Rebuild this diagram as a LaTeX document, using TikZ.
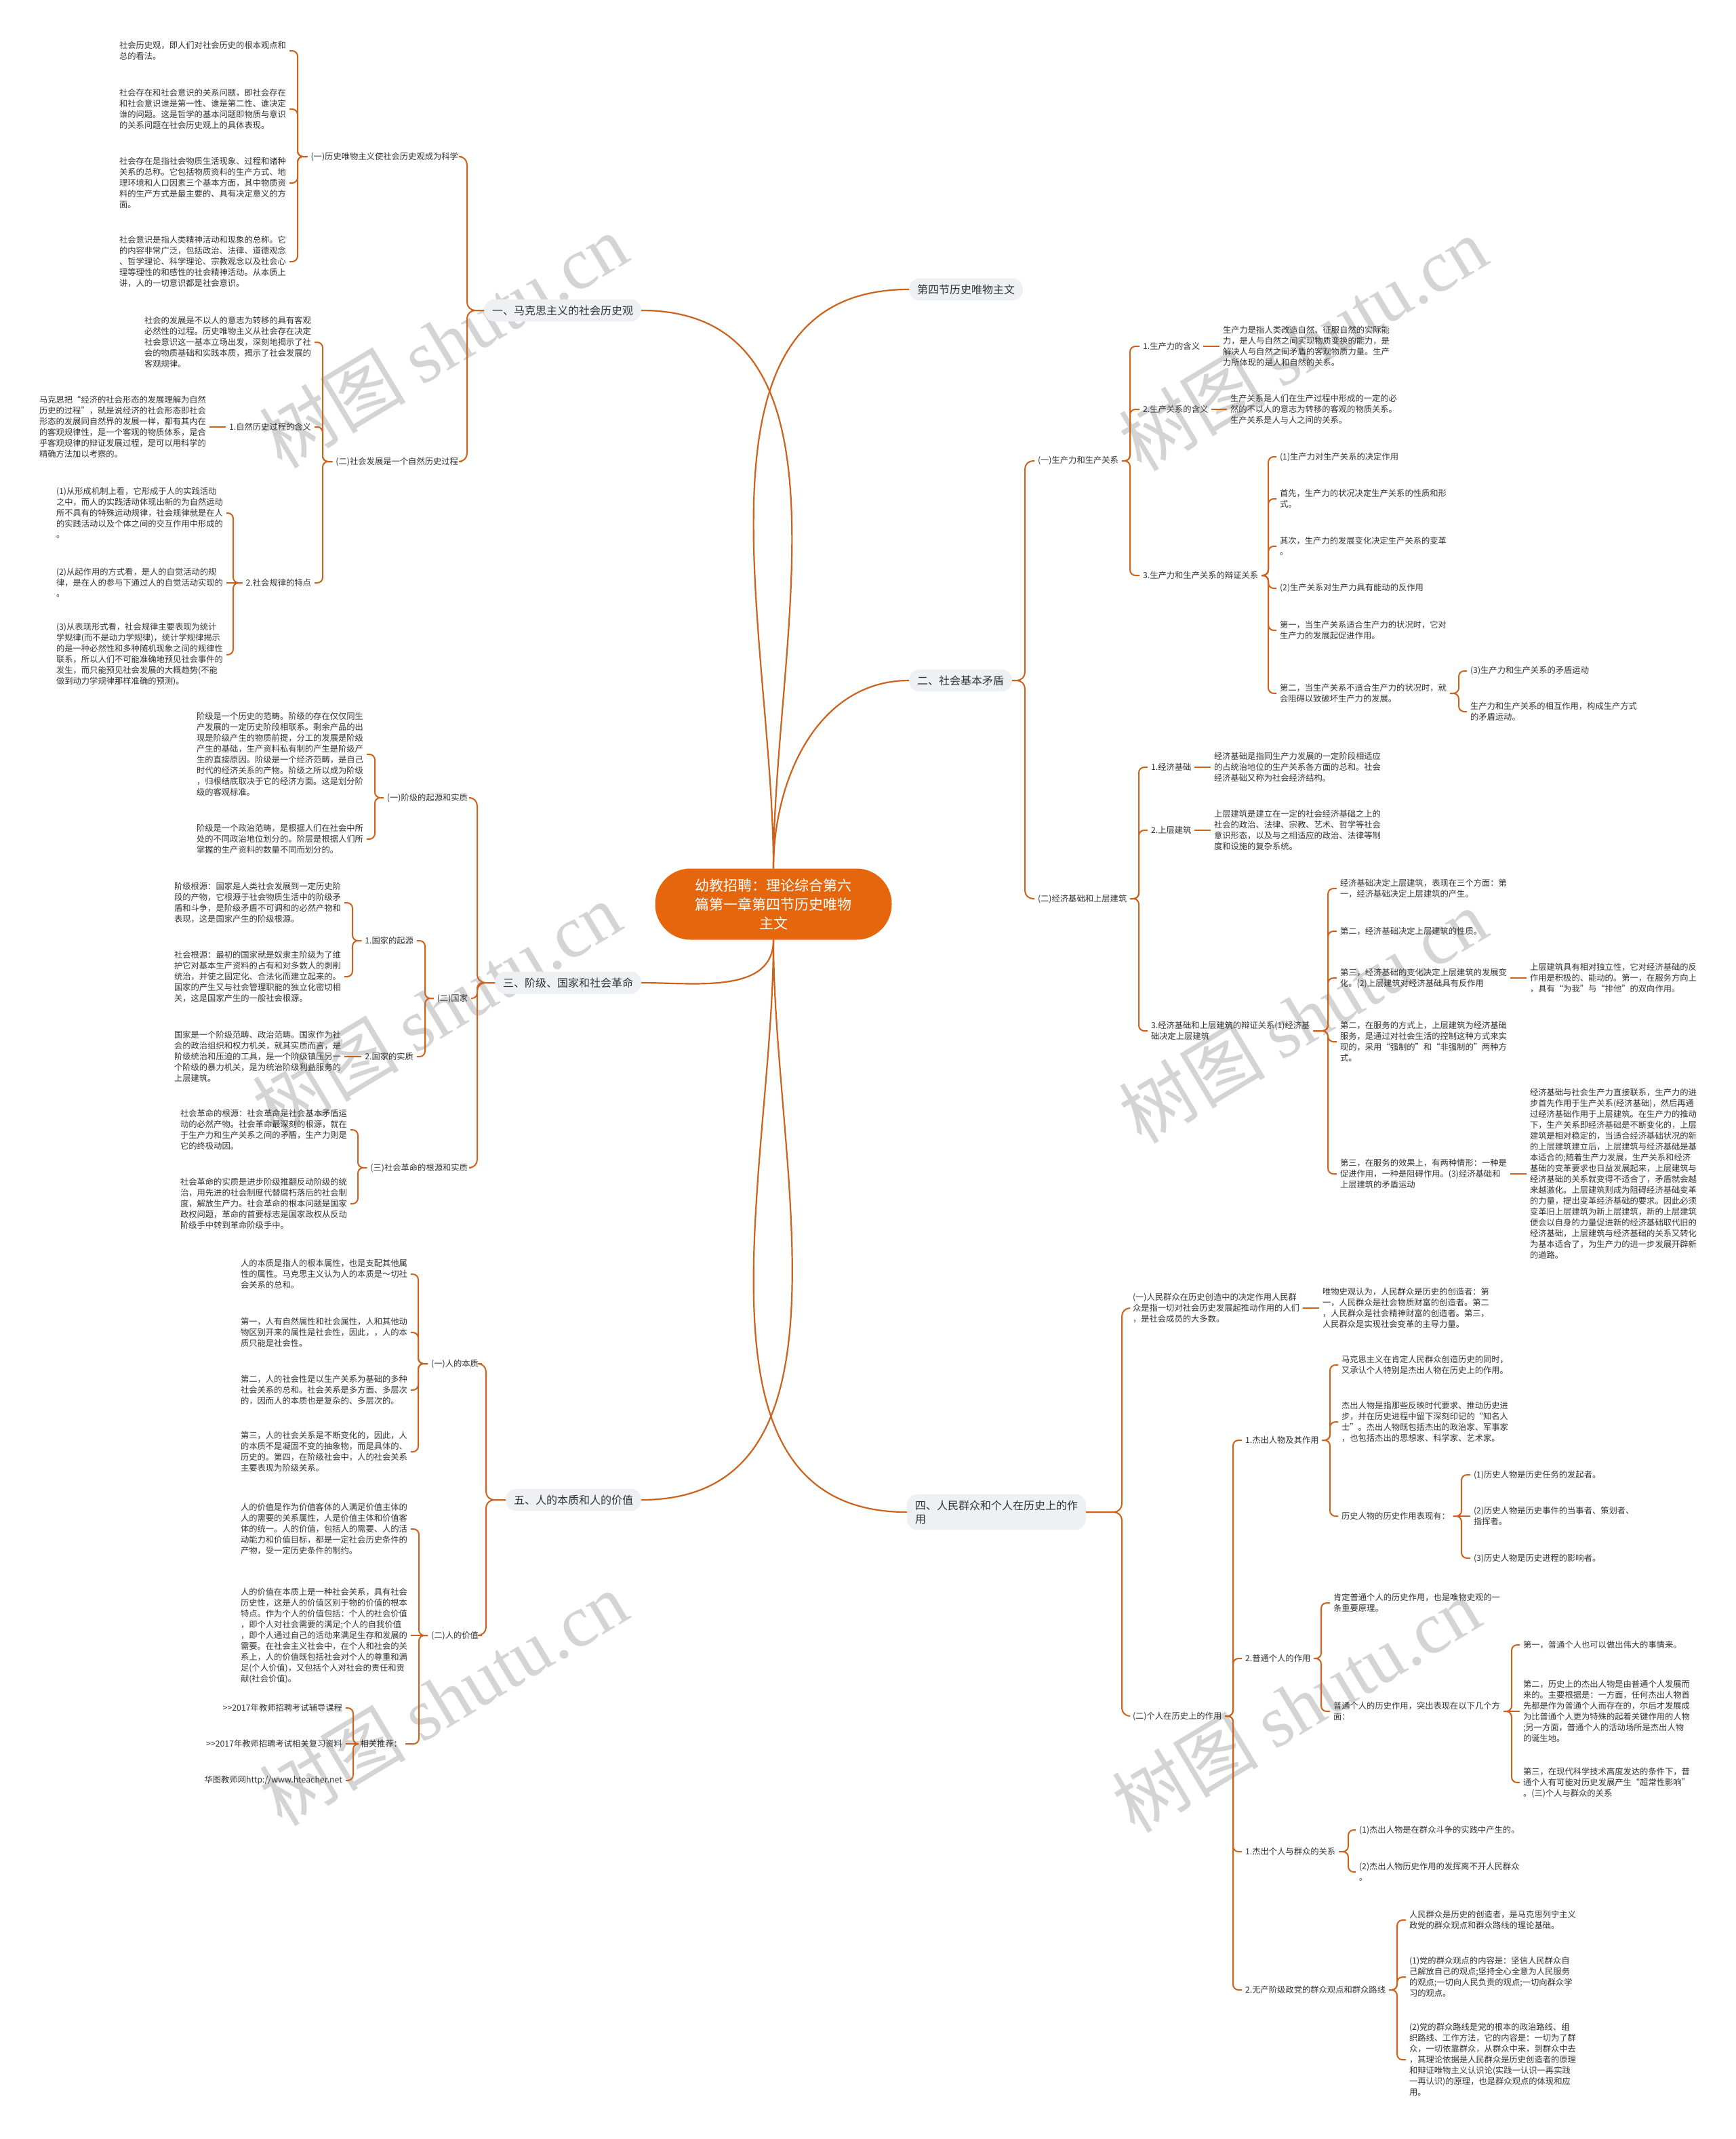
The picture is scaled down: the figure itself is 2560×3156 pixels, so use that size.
\documentclass[tikz,border=0pt]{standalone}
\usepackage{fontspec}
\setmainfont{Noto Sans CJK SC}
\newfontfamily\wmserif{Liberation Serif}
\usetikzlibrary{calc}
\definecolor{lc}{RGB}{204,98,28}
\definecolor{tc}{RGB}{51,51,51}
\definecolor{bx}{RGB}{238,240,243}
\definecolor{ctrc}{RGB}{230,102,14}
\definecolor{wm}{RGB}{212,212,212}
\tikzset{
  conn/.style={draw=lc,line width=2pt,rounded corners=8pt},
  connb/.style={draw=lc,line width=2pt,rounded corners=12pt},
  conn0/.style={draw=lc,line width=2.2pt},
  txt/.style={font=\fontsize{12.3}{16}\selectfont,text=tc,align=left,inner sep=0pt,outer xsep=5pt,outer ysep=0pt},
  nr/.style={txt,anchor=west,xshift=-5pt},
  nl/.style={txt,anchor=east,xshift=5pt},
  mb/.style={fill=bx,rounded corners=16pt,font=\fontsize{16}{20}\selectfont,text=tc,inner xsep=12pt,inner ysep=9pt,align=left,outer sep=0pt},
  ctr/.style={fill=ctrc,rounded corners=52pt,minimum width=349pt,minimum height=105pt,inner sep=0pt,text=white,font=\fontsize{21}{28}\selectfont,align=center},
  wmk/.style={rotate=31,text=wm,font=\fontsize{108}{108}\selectfont,inner sep=0pt}
}
\newcommand\cR[4][conn]{\draw[#1] let \p1=(#2.east) in (\p1) -- (#4pt,\y1) |- (#3.west);}
\newcommand\cL[4][conn]{\draw[#1] let \p1=(#2.west) in (\p1) -- (#4pt,\y1) |- (#3.east);}
\newcommand\sR[2]{\draw[conn] (#1.east) -- (#2.west);}
\newcommand\sL[2]{\draw[conn] (#1.west) -- (#2.east);}
\newcommand\gtgt{>\kern0pt>}
\begin{document}
\begin{tikzpicture}[x=1pt,y=-1pt]
\fill[white] (0,0) rectangle (2560,3156);
\useasboundingbox (0,0) rectangle (2560,3156);
% watermarks
\foreach \wx/\wy in {654/503,1922/507,644/1489,1922/1499,654/2506,1912/2516}
  \node[wmk] (wm\wx) at (\wx,\wy) {树图 {\wmserif shutu.cn}};

% center
\node[ctr] (ctr) at (1141,1334) {幼教招聘：理论综合第六\\篇第一章第四节历史唯物\\主文};

% main boxes
\node[mb,anchor=west] (b4th) at (1341,427) {第四节历史唯物主文};
\node[mb,anchor=west] (b2) at (1341,1004) {二、社会基本矛盾};
\node[mb,anchor=west] (b4) at (1338,2231) {四、人民群众和个人在历史上的作\\用};
\node[mb,anchor=east] (b1) at (946,458) {一、马克思主义的社会历史观};
\node[mb,anchor=east] (b3) at (946,1450) {三、阶级、国家和社会革命};
\node[mb,anchor=east] (b5) at (946,2213) {五、人的本质和人的价值};

\draw[conn0] (ctr.north) to[out=90,in=180] (b4th.west);
\draw[conn0] (ctr.north) to[out=90,in=180] (b2.west);
\draw[conn0] (ctr.north) to[out=90,in=0] (b1.east);
\draw[conn0] (ctr.south) to[out=270,in=0] (b3.east);
\draw[conn0] (ctr.south) to[out=270,in=0] (b5.east);
\draw[conn0] (ctr.south) to[out=270,in=180] (b4.west);

% ===== 一 =====
\node[nl] (a1) at (676,231) {(一)历史唯物主义使社会历史观成为科学};
\node[nl] (a2) at (676,681) {(二)社会发展是一个自然历史过程};
\node[nl] (a11) at (422,75) {社会历史观，即人们对社会历史的根本观点和\\总的看法。};
\node[nl] (a12) at (422,161) {社会存在和社会意识的关系问题，即社会存在\\和社会意识谁是第一性、谁是第二性、谁决定\\谁的问题。这是哲学的基本问题即物质与意识\\的关系问题在社会历史观上的具体表现。};
\node[nl] (a13) at (422,270) {社会存在是指社会物质生活现象、过程和诸种\\关系的总称。它包括物质资料的生产方式、地\\理环境和人口因素三个基本方面，其中物质资\\料的生产方式是最主要的、具有决定意义的方\\面。};
\node[nl] (a14) at (422,386) {社会意识是指人类精神活动和现象的总称。它\\的内容非常广泛，包括政治、法律、道德观念\\、哲学理论、科学理论、宗教观念以及社会心\\理等理性的和感性的社会精神活动。从本质上\\讲，人的一切意识都是社会意识。};
\node[nl] (d1) at (459,505) {社会的发展是不以人的意志为转移的具有客观\\必然性的过程。历史唯物主义从社会存在决定\\社会意识这一基本立场出发，深刻地揭示了社\\会的物质基础和实践本质，揭示了社会发展的\\客观规律。};
\node[nl] (d2) at (459,630) {1.自然历史过程的含义};
\node[nl] (d2a) at (304,630) {马克思把“经济的社会形态的发展理解为自然\\历史的过程”，就是说经济的社会形态即社会\\形态的发展同自然界的发展一样，都有其内在\\的客观规律性，是一个客观的物质体系，是合\\乎客观规律的辩证发展过程，是可以用科学的\\精确方法加以考察的。};
\node[nl] (d3) at (459,860) {2.社会规律的特点};
\node[nl] (e1) at (329,757) {(1)从形成机制上看，它形成于人的实践活动\\之中，而人的实践活动体现出新的为自然运动\\所不具有的特殊运动规律，社会规律就是在人\\的实践活动以及个体之间的交互作用中形成的\\。};
\node[nl] (e2) at (329,860) {(2)从起作用的方式看，是人的自觉活动的规\\律，是在人的参与下通过人的自觉活动实现的\\。};
\node[nl] (e3) at (329,966) {(3)从表现形式看，社会规律主要表现为统计\\学规律(而不是动力学规律)，统计学规律揭示\\的是一种必然性和多种随机现象之间的规律性\\联系，所以人们不可能准确地预见社会事件的\\发生，而只能预见社会发展的大概趋势(不能\\做到动力学规律那样准确的预测)。};
\cL[connb]{b1}{a1}{689} \cL[connb]{b1}{a2}{689}
\cL{a1}{a11}{439} \cL{a1}{a12}{439} \cL{a1}{a13}{439} \cL{a1}{a14}{439}
\cL{a2}{d1}{476} \cL{a2}{d2}{476} \cL{a2}{d3}{476}
\sL{d2}{d2a}
\cL{d3}{e1}{344} \sL{d3}{e2} \cL{d3}{e3}{344}

% ===== 三 =====
\node[nl] (f0a) at (690,1177) {(一)阶级的起源和实质};
\node[nl] (f0b) at (690,1473) {(二)国家};
\node[nl] (f0c) at (690,1723) {(三)社会革命的根源和实质};
\node[nl] (f1) at (536,1113) {阶级是一个历史的范畴。阶级的存在仅仅同生\\产发展的一定历史阶段相联系。剩余产品的出\\现是阶级产生的物质前提，分工的发展是阶级\\产生的基础，生产资料私有制的产生是阶级产\\生的直接原因。阶级是一个经济范畴，是自己\\时代的经济关系的产物。阶级之所以成为阶级\\，归根结底取决于它的经济方面。这是划分阶\\级的客观标准。};
\node[nl] (f2) at (536,1238) {阶级是一个政治范畴，是根据人们在社会中所\\处的不同政治地位划分的。阶层是根据人们所\\掌握的生产资料的数量不同而划分的。};
\node[nl] (g1) at (610,1388) {1.国家的起源};
\node[nl] (g2) at (610,1559) {2.国家的实质};
\node[nl] (h1) at (503,1332) {阶级根源：国家是人类社会发展到一定历史阶\\段的产物，它根源于社会物质生活中的阶级矛\\盾和斗争，是阶级矛盾不可调和的必然产物和\\表现，这是国家产生的阶级根源。};
\node[nl] (h2) at (503,1441) {社会根源：最初的国家就是奴隶主阶级为了维\\护它对基本生产资料的占有和对多数人的剥削\\统治，并使之固定化、合法化而建立起来的。\\国家的产生又与社会管理职能的独立化密切相\\关，这是国家产生的一般社会根源。};
\node[nl] (i1) at (503,1559) {国家是一个阶级范畴、政治范畴。国家作为社\\会的政治组织和权力机关，就其实质而言，是\\阶级统治和压迫的工具，是一个阶级镇压另一\\个阶级的暴力机关，是为统治阶级利益服务的\\上层建筑。};
\node[nl] (j1) at (512,1667) {社会革命的根源：社会革命是社会基本矛盾运\\动的必然产物。社会革命最深刻的根源，就在\\于生产力和生产关系之间的矛盾，生产力则是\\它的终极动因。};
\node[nl] (j2) at (512,1776) {社会革命的实质是进步阶级推翻反动阶级的统\\治，用先进的社会制度代替腐朽落后的社会制\\度，解放生产力。社会革命的根本问题是国家\\政权问题，革命的首要标志是国家政权从反动\\阶级手中转到革命阶级手中。};
\cL[connb]{b3}{f0a}{704} \cL{b3}{f0b}{704} \cL[connb]{b3}{f0c}{704}
\cL{f0a}{f1}{553} \cL{f0a}{f2}{553}
\cL{f0b}{g1}{627} \cL{f0b}{g2}{627}
\cL{g1}{h1}{520} \cL{g1}{h2}{520}
\sL{g2}{i1}
\cL{f0c}{j1}{528} \cL{f0c}{j2}{528}

% ===== 五 =====
\node[nl] (p5a) at (706,2012) {(一)人的本质};
\node[nl] (p5b) at (706,2413) {(二)人的价值};
\node[nl] (l1) at (601,1880) {人的本质是指人的根本属性，也是支配其他属\\性的属性。马克思主义认为人的本质是～切社\\会关系的总和。};
\node[nl] (l2) at (601,1966) {第一，人有自然属性和社会属性，人和其他动\\物区别开来的属性是社会性，因此，，人的本\\质只能是社会性。};
\node[nl] (l3) at (601,2051) {第二，人的社会性是以生产关系为基础的多种\\社会关系的总和。社会关系是多方面、多层次\\的，因而人的本质也是复杂的、多层次的。};
\node[nl] (l4) at (601,2142) {第三，人的社会关系是不断变化的，因此，人\\的本质不是凝固不变的抽象物，而是具体的、\\历史的。第四，在阶级社会中，人的社会关系\\主要表现为阶级关系。};
\node[nl] (k1) at (601,2256) {人的价值是作为价值客体的人满足价值主体的\\人的需要的关系属性，人是价值主体和价值客\\体的统一。人的价值，包括人的需要、人的活\\动能力和价值目标，都是一定社会历史条件的\\产物，受一定历史条件的制约。};
\node[nl] (k2) at (601,2413) {人的价值在本质上是一种社会关系，具有社会\\历史性，这是人的价值区别于物的价值的根本\\特点。作为个人的价值包括：个人的社会价值\\，即个人对社会需要的满足;个人的自我价值\\，即个人通过自己的活动来满足生存和发展的\\需要。在社会主义社会中，在个人和社会的关\\系上，人的价值既包括社会对个人的尊重和满\\足(个人价值)，又包括个人对社会的责任和贡\\献(社会价值)。};
\node[nl] (rec) at (593,2573) {相关推荐：};
\node[nl] (m1) at (505,2520) {\gtgt2017年教师招聘考试辅导课程};
\node[nl] (m2) at (505,2573) {\gtgt2017年教师招聘考试相关复习资料};
\node[nl] (m3) at (505,2627) {华图教师网http://www.hteacher.net};
\cL[connb]{b5}{p5a}{717} \cL[connb]{b5}{p5b}{717}
\cL{p5a}{l1}{617} \cL{p5a}{l2}{617} \cL{p5a}{l3}{617} \cL{p5a}{l4}{617}
\cL{p5b}{k1}{618} \sL{p5b}{k2} \cL{p5b}{rec}{618}
\cL{rec}{m1}{521} \sL{rec}{m2} \cL{rec}{m3}{521}

% ===== 二 =====
\node[nr] (c1) at (1531,680) {(一)生产力和生产关系};
\node[nr] (c2) at (1531,1326) {(二)经济基础和上层建筑};
\node[nr] (n1) at (1686,511) {1.生产力的含义};
\node[nr] (n1a) at (1804,511) {生产力是指人类改造自然、征服自然的实际能\\力，是人与自然之间实现物质变换的能力，是\\解决人与自然之间矛盾的客观物质力量。生产\\力所体现的是人和自然的关系。};
\node[nr] (n2) at (1686,604) {2.生产关系的含义};
\node[nr] (n2a) at (1815,604) {生产关系是人们在生产过程中形成的一定的必\\然的不以人的意志为转移的客观的物质关系。\\生产关系是人与人之间的关系。};
\node[nr] (n3) at (1686,849) {3.生产力和生产关系的辩证关系};
\node[nr] (o1) at (1888,674) {(1)生产力对生产关系的决定作用};
\node[nr] (o2) at (1888,736) {首先，生产力的状况决定生产关系的性质和形\\式。};
\node[nr] (o3) at (1888,806) {其次，生产力的发展变化决定生产关系的变革\\。};
\node[nr] (o4) at (1888,868) {(2)生产关系对生产力具有能动的反作用};
\node[nr] (o5) at (1888,930) {第一，当生产关系适合生产力的状况时，它对\\生产力的发展起促进作用。};
\node[nr] (o6) at (1888,1023) {第二，当生产关系不适合生产力的状况时，就\\会阻碍以致破坏生产力的发展。};
\node[nr] (p1) at (2169,990) {(3)生产力和生产关系的矛盾运动};
\node[nr] (p2) at (2169,1050) {生产力和生产关系的相互作用，构成生产方式\\的矛盾运动。};
\node[nr] (q1) at (1698,1132) {1.经济基础};
\node[nr] (q1a) at (1791,1132) {经济基础是指同生产力发展的一定阶段相适应\\的占统治地位的生产关系各方面的总和。社会\\经济基础又称为社会经济结构。};
\node[nr] (q2) at (1698,1225) {2.上层建筑};
\node[nr] (q2a) at (1791,1225) {上层建筑是建立在一定的社会经济基础之上的\\社会的政治、法律、宗教、艺术、哲学等社会\\意识形态，以及与之相适应的政治、法律等制\\度和设施的复杂系统。};
\node[nr] (q3) at (1698,1521) {3.经济基础和上层建筑的辩证关系(1)经济基\\础决定上层建筑};
\node[nr] (r1) at (1977,1311) {经济基础决定上层建筑，表现在三个方面：第\\一，经济基础决定上层建筑的产生。};
\node[nr] (r2) at (1977,1374) {第二，经济基础决定上层建筑的性质。};
\node[nr] (r3) at (1977,1443) {第三，经济基础的变化决定上层建筑的发展变\\化。(2)上层建筑对经济基础具有反作用};
\node[nr] (r3a) at (2257,1443) {上层建筑具有相对独立性，它对经济基础的反\\作用是积极的、能动的。第一，在服务方向上\\，具有“为我”与“排他”的双向作用。};
\node[nr] (r4) at (1977,1537) {第二，在服务的方式上，上层建筑为经济基础\\服务，是通过对社会生活的控制这种方式来实\\现的，采用“强制的”和“非强制的”两种方\\式。};
\node[nr] (r5) at (1977,1732) {第三，在服务的效果上，有两种情形：一种是\\促进作用，一种是阻碍作用。(3)经济基础和\\上层建筑的矛盾运动};
\node[nr] (r5a) at (2257,1732) {经济基础与社会生产力直接联系，生产力的进\\步首先作用于生产关系(经济基础)，然后再通\\过经济基础作用于上层建筑。在生产力的推动\\下，生产关系即经济基础是不断变化的，上层\\建筑是相对稳定的，当适合经济基础状况的新\\的上层建筑建立后，上层建筑与经济基础是基\\本适合的;随着生产力发展，生产关系和经济\\基础的变革要求也日益发展起来，上层建筑与\\经济基础的关系就变得不适合了，矛盾就会越\\来越激化。上层建筑则成为阻碍经济基础变革\\的力量，提出变革经济基础的要求。因此必须\\变革旧上层建筑为新上层建筑，新的上层建筑\\便会以自身的力量促进新的经济基础取代旧的\\经济基础，上层建筑与经济基础的关系又转化\\为基本适合了，为生产力的进一步发展开辟新\\的道路。};
\cR[connb]{b2}{c1}{1512} \cR[connb]{b2}{c2}{1512}
\cR{c1}{n1}{1667} \cR{c1}{n2}{1667} \cR{c1}{n3}{1667}
\sR{n1}{n1a} \sR{n2}{n2a}
\cR{n3}{o1}{1871} \cR{n3}{o2}{1871} \cR{n3}{o3}{1871} \cR{n3}{o4}{1871} \cR{n3}{o5}{1871} \cR{n3}{o6}{1871}
\cR{o6}{p1}{2152} \cR{o6}{p2}{2152}
\cR{c2}{q1}{1680} \cR{c2}{q2}{1680} \cR{c2}{q3}{1680}
\sR{q1}{q1a} \sR{q2}{q2a}
\cR{q3}{r1}{1959} \cR{q3}{r2}{1959} \cR{q3}{r3}{1959} \cR{q3}{r4}{1959} \cR{q3}{r5}{1959}
\sR{r3}{r3a} \sR{r5}{r5a}

% ===== 四 =====
\node[nr] (s1) at (1671,1930) {(一)人民群众在历史创造中的决定作用人民群\\众是指一切对社会历史发展起推动作用的人们\\，是社会成员的大多数。};
\node[nr] (s1a) at (1951,1930) {唯物史观认为，人民群众是历史的创造者：第\\一，人民群众是社会物质财富的创造者。第二\\，人民群众是社会精神财富的创造者。第三，\\人民群众是实现社会变革的主导力量。};
\node[nr] (s2) at (1671,2532) {(二)个人在历史上的作用};
\node[nr] (t1) at (1837,2125) {1.杰出人物及其作用};
\node[nr] (t2) at (1837,2447) {2.普通个人的作用};
\node[nr] (t3) at (1837,2732) {1.杰出个人与群众的关系};
\node[nr] (t4) at (1837,2936) {2.无产阶级政党的群众观点和群众路线};
\node[nr] (u1) at (1979,2014) {马克思主义在肯定人民群众创造历史的同时，\\又承认个人特别是杰出人物在历史上的作用。};
\node[nr] (u2) at (1979,2098) {杰出人物是指那些反映时代要求、推动历史进\\步，并在历史进程中留下深刻印记的“知名人\\士”。杰出人物既包括杰出的政治家、军事家\\，也包括杰出的思想家、科学家、艺术家。};
\node[nr] (u3) at (1979,2237) {历史人物的历史作用表现有：};
\node[nr] (v1) at (2174,2176) {(1)历史人物是历史任务的发起者。};
\node[nr] (v2) at (2174,2237) {(2)历史人物是历史事件的当事者、策划者、\\指挥者。};
\node[nr] (v3) at (2174,2299) {(3)历史人物是历史进程的影响者。};
\node[nr] (w1) at (1967,2365) {肯定普通个人的历史作用，也是唯物史观的一\\条重要原理。};
\node[nr] (w2) at (1967,2525) {普通个人的历史作用，突出表现在以下几个方\\面：};
\node[nr] (x1) at (2247,2427) {第一，普通个人也可以做出伟大的事情来。};
\node[nr] (x2) at (2247,2525) {第二，历史上的杰出人物是由普通个人发展而\\来的。主要根据是：一方面，任何杰出人物首\\先都是作为普通个人而存在的，尔后才发展成\\为比普通个人更为特殊的起着关键作用的人物\\;另一方面，普通个人的活动场所是杰出人物\\的诞生地。};
\node[nr] (x3) at (2247,2630) {第三，在现代科学技术高度发达的条件下，普\\通个人有可能对历史发展产生“超常性影响”\\。(三)个人与群众的关系};
\node[nr] (y1) at (2005,2700) {(1)杰出人物是在群众斗争的实践中产生的。};
\node[nr] (y2) at (2005,2762) {(2)杰出人物历史作用的发挥离不开人民群众\\。};
\node[nr] (z1) at (2079,2833) {人民群众是历史的创造者，是马克思列宁主义\\政党的群众观点和群众路线的理论基础。};
\node[nr] (z2) at (2079,2917) {(1)党的群众观点的内容是：坚信人民群众自\\己解放自己的观点;坚持全心全意为人民服务\\的观点;一切向人民负责的观点;一切向群众学\\习的观点。};
\node[nr] (z3) at (2079,3039) {(2)党的群众路线是党的根本的政治路线、组\\织路线、工作方法，它的内容是：一切为了群\\众，一切依靠群众，从群众中来，到群众中去\\，其理论依据是人民群众是历史创造者的原理\\和辩证唯物主义认识论(实践一认识一再实践\\一再认识)的原理，也是群众观点的体现和应\\用。};
\cR[connb]{b4}{s1}{1655} \cR[connb]{b4}{s2}{1655}
\sR{s1}{s1a}
\cR{s2}{t1}{1819} \cR{s2}{t2}{1819} \cR{s2}{t3}{1819} \cR{s2}{t4}{1819}
\cR{t1}{u1}{1962} \cR{t1}{u2}{1962} \cR{t1}{u3}{1962}
\cR{u3}{v1}{2156} \sR{u3}{v2} \cR{u3}{v3}{2156}
\cR{t2}{w1}{1949} \cR{t2}{w2}{1949}
\cR{w2}{x1}{2230} \sR{w2}{x2} \cR{w2}{x3}{2230}
\cR{t3}{y1}{1989} \cR{t3}{y2}{1989}
\cR{t4}{z1}{2061} \cR{t4}{z2}{2061} \cR{t4}{z3}{2061}
\end{tikzpicture}
\end{document}
